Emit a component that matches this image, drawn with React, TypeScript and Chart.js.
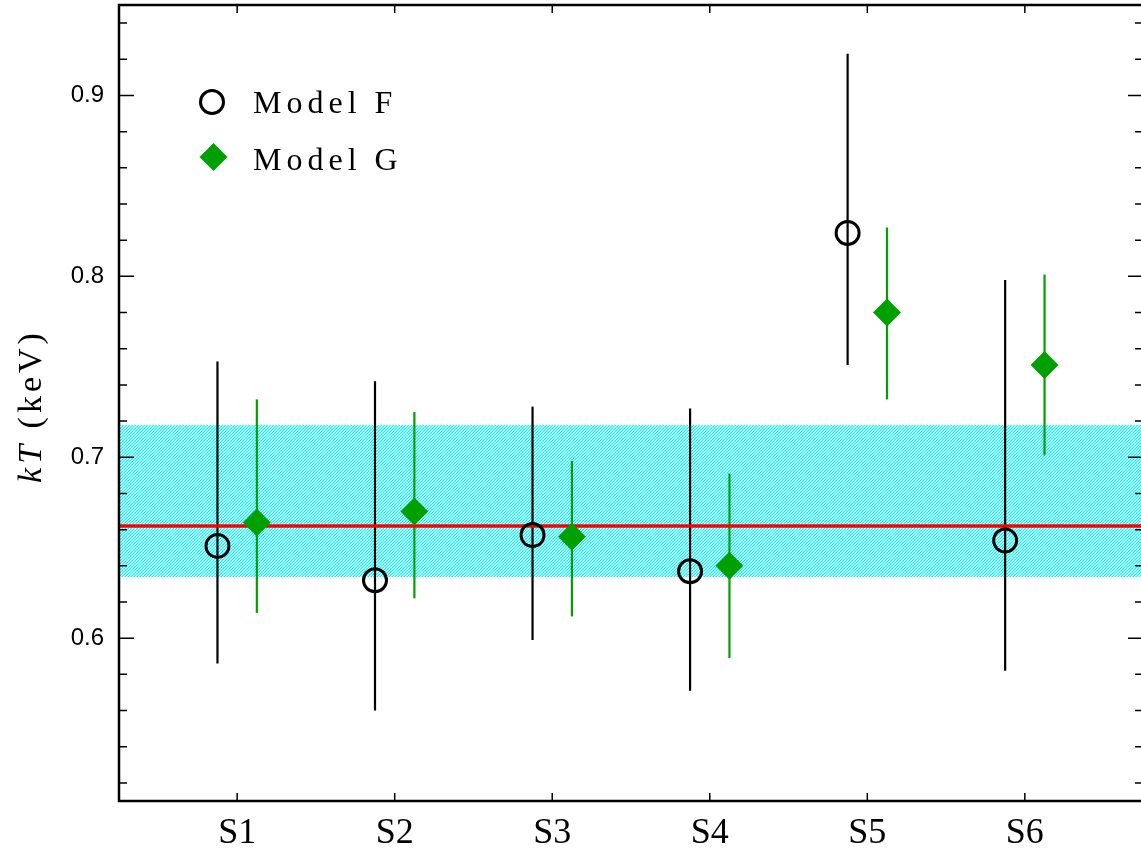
import React, { useEffect, useRef } from "react";
import { Chart, registerables } from "chart.js";

Chart.register(...registerables);

// ---- data ----
const categories = ["S1", "S2", "S3", "S4", "S5", "S6"];
const modelF = [0.651, 0.632, 0.657, 0.637, 0.824, 0.654];
const modelFLow = [0.586, 0.56, 0.599, 0.571, 0.751, 0.582];
const modelFHigh = [0.753, 0.742, 0.728, 0.727, 0.923, 0.798];
const modelG = [0.664, 0.67, 0.656, 0.64, 0.78, 0.751];
const modelGLow = [0.614, 0.622, 0.612, 0.589, 0.732, 0.701];
const modelGHigh = [0.732, 0.725, 0.698, 0.691, 0.827, 0.801];
const meanKT = 0.662;
const bandLow = 0.634;
const bandHigh = 0.718;
const yMajorTicks = [0.6, 0.7, 0.8, 0.9];
const yMinorTicks = [
  0.52, 0.54, 0.56, 0.58, 0.62, 0.64, 0.66, 0.68, 0.72, 0.74, 0.76, 0.78,
  0.82, 0.84, 0.86, 0.88, 0.92, 0.94,
];
const seriesNames = ["Model F", "Model G"];

const OFFSET = 0.125;
const GREEN = "#00a000";

function makePattern(): CanvasPattern | string {
  const c = document.createElement("canvas");
  c.width = 3;
  c.height = 3;
  const g = c.getContext("2d");
  if (!g) return "#7ff";
  const img = g.createImageData(3, 3);
  for (let yy = 0; yy < 3; yy++) {
    for (let xx = 0; xx < 3; xx++) {
      const k = (xx + yy) % 3;
      const i = (yy * 3 + xx) * 4;
      let r = 255, gg = 255, b = 255;
      if (k === 2) { r = 0; gg = 255; b = 255; }
      else if (k === 1) { r = 120; gg = 255; b = 255; }
      img.data[i] = r;
      img.data[i + 1] = gg;
      img.data[i + 2] = b;
      img.data[i + 3] = 255;
    }
  }
  g.putImageData(img, 0, 0);
  const ctx = document.createElement("canvas").getContext("2d");
  return ctx ? (ctx.createPattern(c, "repeat") as CanvasPattern) : "#7ff";
}

function zeroPad(s: any) {
  s.paddingTop = 0;
  s.paddingBottom = 0;
  s.paddingLeft = 0;
  s.paddingRight = 0;
}

export default function App() {
  const ref = useRef<HTMLCanvasElement | null>(null);

  useEffect(() => {
    if (!ref.current) return;
    const pattern = makePattern();

    const custom = {
      id: "custom",
      beforeDatasetsDraw(chart: any) {
        const { ctx, chartArea: a, scales } = chart;
        const x = scales.x;
        const y = scales.y;
        ctx.save();
        ctx.beginPath();
        ctx.rect(a.left, a.top, a.right - a.left, a.bottom - a.top);
        ctx.clip();
        // hatched band
        const yt = Math.round(y.getPixelForValue(bandHigh));
        const yb = Math.round(y.getPixelForValue(bandLow));
        ctx.fillStyle = pattern;
        ctx.fillRect(a.left, yt, a.right - a.left, yb - yt);
        // error bars
        ctx.lineWidth = 2.2;
        ctx.lineCap = "butt";
        categories.forEach((_, i) => {
          const xf = x.getPixelForValue(i + 1 - OFFSET);
          ctx.strokeStyle = "#000";
          ctx.beginPath();
          ctx.moveTo(xf, y.getPixelForValue(modelFLow[i]));
          ctx.lineTo(xf, y.getPixelForValue(modelFHigh[i]));
          ctx.stroke();
          const xg = x.getPixelForValue(i + 1 + OFFSET);
          ctx.strokeStyle = GREEN;
          ctx.beginPath();
          ctx.moveTo(xg, y.getPixelForValue(modelGLow[i]));
          ctx.lineTo(xg, y.getPixelForValue(modelGHigh[i]));
          ctx.stroke();
        });
        // mean line
        const ym = y.getPixelForValue(meanKT);
        ctx.strokeStyle = "#ff0000";
        ctx.lineWidth = 3.5;
        ctx.beginPath();
        ctx.moveTo(a.left, ym);
        ctx.lineTo(a.right, ym);
        ctx.stroke();
        ctx.restore();
      },
      afterDraw(chart: any) {
        const { ctx, chartArea: a, scales } = chart;
        const x = scales.x;
        const y = scales.y;
        ctx.save();
        ctx.strokeStyle = "#000";
        ctx.lineWidth = 1.5;
        ctx.beginPath();
        yMajorTicks.forEach((v) => {
          const p = y.getPixelForValue(v);
          ctx.moveTo(a.left, p);
          ctx.lineTo(a.left + 15, p);
          ctx.moveTo(a.right, p);
          ctx.lineTo(a.right - 15, p);
        });
        yMinorTicks.forEach((v) => {
          const p = y.getPixelForValue(v);
          ctx.moveTo(a.left, p);
          ctx.lineTo(a.left + 8, p);
          ctx.moveTo(a.right, p);
          ctx.lineTo(a.right - 8, p);
        });
        categories.forEach((_, i) => {
          const p = x.getPixelForValue(i + 1);
          ctx.moveTo(p, a.bottom);
          ctx.lineTo(p, a.bottom - 8);
          ctx.moveTo(p, a.top);
          ctx.lineTo(p, a.top + 8);
        });
        ctx.stroke();
        // frame
        ctx.lineWidth = 2.5;
        ctx.strokeRect(a.left, a.top, a.right - a.left, a.bottom - a.top);

        // legend
        ctx.lineWidth = 3;
        ctx.strokeStyle = "#000";
        ctx.beginPath();
        ctx.arc(212, 102, 11.5, 0, Math.PI * 2);
        ctx.stroke();
        ctx.fillStyle = GREEN;
        ctx.beginPath();
        ctx.moveTo(213.5, 143);
        ctx.lineTo(227.5, 157);
        ctx.lineTo(213.5, 171);
        ctx.lineTo(199.5, 157);
        ctx.closePath();
        ctx.fill();
        ctx.fillStyle = "#000";
        ctx.font = "32px 'Liberation Serif'";
        (ctx as any).letterSpacing = "5px";
        ctx.textAlign = "left";
        ctx.textBaseline = "alphabetic";
        ctx.fillText(seriesNames[0], 253, 113);
        ctx.fillText(seriesNames[1], 253, 170);

        // y title
        ctx.translate(41, 406);
        ctx.rotate(-Math.PI / 2);
        (ctx as any).letterSpacing = "4px";
        ctx.font = "italic 34px 'Liberation Serif'";
        const w1 = ctx.measureText("kT").width;
        ctx.font = "34px 'Liberation Serif'";
        const w2 = ctx.measureText(" (keV)").width;
        const start = -(w1 + w2) / 2;
        ctx.font = "italic 34px 'Liberation Serif'";
        ctx.fillText("kT", start, 0);
        ctx.font = "34px 'Liberation Serif'";
        ctx.fillText(" (keV)", start + w1, 0);
        ctx.restore();
      },
    };

    const chart = new Chart(ref.current, {
      type: "scatter",
      data: {
        datasets: [
          {
            label: seriesNames[0],
            data: modelF.map((v, i) => ({ x: i + 1 - OFFSET, y: v })),
            pointStyle: "circle",
            pointRadius: 11.5,
            pointBorderWidth: 3,
            pointBorderColor: "#000",
            pointBackgroundColor: "rgba(0,0,0,0)",
            showLine: false,
          },
          {
            label: seriesNames[1],
            data: modelG.map((v, i) => ({ x: i + 1 + OFFSET, y: v })),
            pointStyle: "rectRot",
            pointRadius: 14,
            pointBorderWidth: 0,
            pointBorderColor: GREEN,
            pointBackgroundColor: GREEN,
            showLine: false,
          },
        ],
      },
      options: {
        animation: false,
        responsive: false,
        devicePixelRatio: 1,
        layout: { autoPadding: false, padding: { left: 0, top: 5, right: 7, bottom: 0 } },
        plugins: { legend: { display: false }, tooltip: { enabled: false } },
        scales: {
          x: {
            type: "linear",
            min: 0.25,
            max: 6.75,
            grid: { display: false, drawTicks: false },
            border: { display: false },
            afterBuildTicks: (s: any) => {
              s.ticks = categories.map((_, i) => ({ value: i + 1 }));
            },
            afterFit: (s: any) => {
              s.height = 55;
              zeroPad(s);
            },
            ticks: {
              autoSkip: false,
              maxRotation: 0,
              padding: 11,
              color: "#000",
              font: { family: "'Liberation Serif'", size: 36 },
              callback: (v: any) => categories[Math.round(Number(v)) - 1] ?? "",
            },
          },
          y: {
            type: "linear",
            min: 0.51,
            max: 0.95,
            grid: { display: false, drawTicks: false },
            border: { display: false },
            afterBuildTicks: (s: any) => {
              s.ticks = yMajorTicks.map((v) => ({ value: v }));
            },
            afterFit: (s: any) => {
              s.width = 119;
              zeroPad(s);
            },
            ticks: {
              padding: 15,
              color: "#000",
              font: { family: "'Liberation Sans'", size: 24 },
              callback: (v: any) => Number(v).toFixed(1),
            },
          },
        },
      },
      plugins: [custom],
    } as any);

    return () => chart.destroy();
  }, []);

  return (
    <div
      style={{
        position: "fixed",
        left: 0,
        top: 0,
        width: 1141,
        height: 856,
        overflow: "hidden",
        background: "#fff",
      }}
    >
      <canvas ref={ref} width={1150} height={856} style={{ display: "block" }} />
    </div>
  );
}
